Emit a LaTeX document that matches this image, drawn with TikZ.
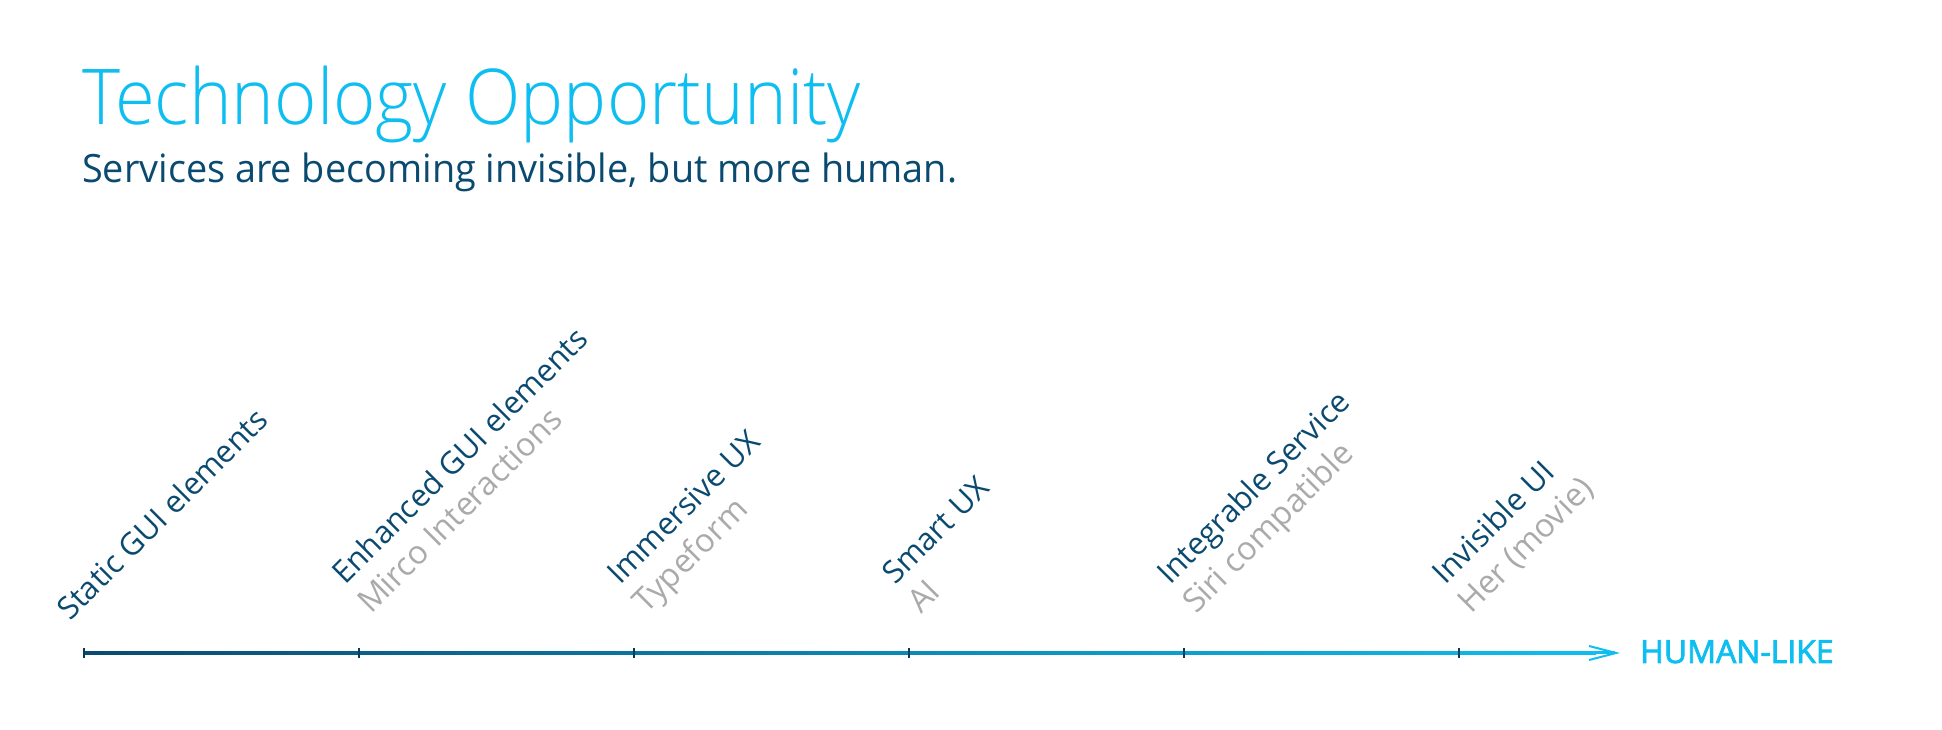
\documentclass[tikz,border=0pt]{standalone}
\usepackage{fontspec}
\setmainfont{Open Sans}
\newfontfamily\titlefont{Open Sans Light}[FakeStretch=0.94]
\newfontfamily\subfont{Open Sans}[FakeStretch=0.97]
\usetikzlibrary{math,arrows.meta}
\definecolor{skyblue}{RGB}{14,190,240}
\definecolor{navy}{RGB}{10,74,112}
\definecolor{tickcol}{RGB}{8,58,90}
\definecolor{greytxt}{RGB}{170,170,170}
\tikzset{
  lab/.style={anchor=base west, rotate=45, inner sep=0pt, text=navy, font=\fontsize{31}{31}\selectfont},
  sublab/.style={lab, text=greytxt, font=\fontsize{32.5}{32.5}\selectfont}
}

\begin{document}
\begin{tikzpicture}[x=1pt,y=1pt]
      \tikzmath{\a = 84; \d = 275; \ly = 77;}
      \useasboundingbox (0,0) rectangle (1942,730);
      \node[anchor=base west, inner sep=0pt, text=skyblue, font=\titlefont\fontsize{77}{77}\selectfont] (title) at (82,605) {Technology Opportunity};
      \node[anchor=base west, inner sep=0pt, text=navy, font=\subfont\fontsize{39}{39}\selectfont] (subtitle) at (82,547) {Services are becoming invisible, but more human.};
      \foreach \i in {1,...,6} \coordinate (t\i) at ({\a+\d*(\i-1)},\ly);
      \coordinate (tip) at (1620,\ly);
      \draw[skyblue, line width=3pt, -{Straight Barb[length=27pt,width=14pt,line width=2pt]}] (t6) -- (tip);
      \shade[left color=navy, right color=skyblue] ([yshift=-1.5pt]t1) rectangle (1596,78.5);
      \foreach \i in {1,...,6} \draw[tickcol, line width=2pt] ([yshift=-5pt]t\i) -- ([yshift=5pt]t\i);
      \node[lab] (l1) at ([shift={(-14,31)}]t1) {Static GUI elements};
      \foreach \i/\main/\ex in {2/Enhanced GUI elements/Mirco Interactions, 3/Immersive UX/Typeform, 4/Smart UX/AI, 5/Integrable Service/Siri compatible, 6/Invisible UI/Her (movie)} {
        \node[lab] (l\i) at ([shift={(-14,67)}]t\i) {\main};
        \node[sublab] (s\i) at ([shift={(12,38)}]t\i) {\ex};
      }
      \node[anchor=base west, inner sep=0pt, text=skyblue, font=\fontsize{32}{32}\selectfont\addfontfeature{FakeBold=2.5}] (human) at (1640,67) {HUMAN-LIKE};
\end{tikzpicture}
\end{document}
